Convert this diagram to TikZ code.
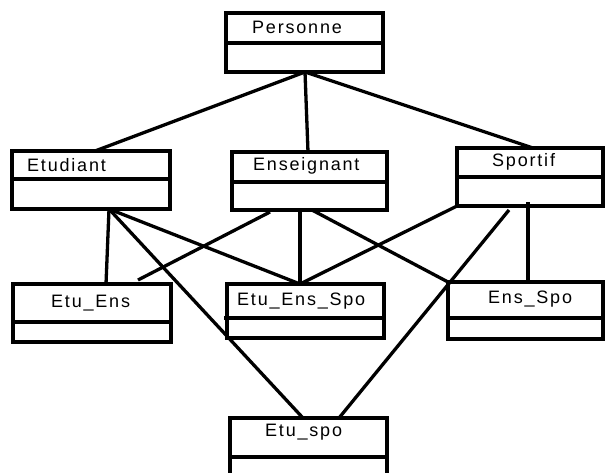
\documentclass[tikz,border=0pt]{standalone}
\usepackage{fontspec}
\setmainfont{Liberation Sans}
\usetikzlibrary{calc}
\tikzset{
  cls/.style={draw, line width=3.3pt, anchor=north west, inner sep=0pt, outer sep=0pt},
  sep/.style={line width=3.3pt},
  lbl/.style={anchor=base west, inner sep=0pt, font=\fontsize{18}{21}\selectfont\addfontfeature{LetterSpace=10}},
  link/.style={line width=3.3pt}
}
\begin{document}
\begin{tikzpicture}[x=1pt,y=-1pt]
\clip (0,0) rectangle (605,472);
\fill[white] (0,0) rectangle (605,472);
% classes
\node[cls, minimum width=157pt, minimum height=59pt] (pers) at (226,13) {};
\draw[sep] (pers.west |- 0,43) -- (pers.east |- 0,43);
\node[lbl] (perst) at (252,33) {Personne};

\node[cls, minimum width=158pt, minimum height=58pt] (etud) at (12,151) {};
\draw[sep] (etud.west |- 0,179) -- (etud.east |- 0,179);
\node[lbl] (etudt) at (27,171) {Etudiant};

\node[cls, minimum width=155pt, minimum height=58pt] (ens) at (232,152) {};
\draw[sep] (ens.west |- 0,182) -- (ens.east |- 0,182);
\node[lbl] (enst) at (253,170) {Enseignant};

\node[cls, minimum width=146pt, minimum height=58pt] (spo) at (457,148) {};
\draw[sep] (spo.west |- 0,177) -- (spo.east |- 0,177);
\node[lbl] (spot) at (492,166) {Sportif};

\node[cls, minimum width=158pt, minimum height=58pt] (ee) at (13,284) {};
\draw[sep] (ee.west |- 0,322) -- (ee.east |- 0,322);
\node[lbl] (eet) at (51,307) {Etu\_Ens};

\node[cls, minimum width=157pt, minimum height=54pt] (ees) at (227,284) {};
\draw[sep] ($(ees.west |- 0,318)+(-3,0)$) -- (ees.east |- 0,318);
\node[lbl] (eest) at (237,305) {Etu\_Ens\_Spo};

\node[cls, minimum width=155pt, minimum height=57pt] (es) at (448,282) {};
\draw[sep] (es.west |- 0,318) -- (es.east |- 0,318);
\node[lbl] (est) at (488,303) {Ens\_Spo};

\node[cls, minimum width=157pt, minimum height=58pt] (esp) at (230,418) {};
\draw[sep] (esp.west |- 0,457) -- (esp.east |- 0,457);
\node[lbl] (espt) at (265,436) {Etu\_spo};

% connectors
\draw[link] ($(pers.south west)+(79,0)$) -- ($(etud.north west)+(83,0)$);
\draw[link] ($(pers.south west)+(79,0)$) -- ($(ens.north west)+(76,0)$);
\draw[link] ($(pers.south west)+(79,0)$) -- ($(spo.north west)+(76,0)$);

\draw[link] ($(etud.south west)+(97,0)$) -- ($(ee.north west)+(93,0)$);
\draw[link] ($(etud.south west)+(97,0)$) -- ($(ees.north west)+(73,0)$);
\draw[link] ($(etud.south west)+(97,0)$) -- ($(esp.north west)+(73,0)$);

\draw[link] ($(ens.south west)+(38,2)$) -- ($(ee.north west)+(125,-4)$);
\draw[link] ($(ens.south west)+(68,2)$) -- ($(ees.north west)+(73,0)$);
\draw[link] ($(ens.south west)+(80,0)$) -- (es.north west);

\draw[link] (spo.south west) -- ($(ees.north west)+(73,0)$);
\draw[link] ($(spo.south west)+(71,-4)$) -- ($(es.north west)+(80,0)$);
\draw[link] ($(spo.south west)+(52,4)$) -- ($(esp.north west)+(109,0)$);
\end{tikzpicture}
\end{document}
